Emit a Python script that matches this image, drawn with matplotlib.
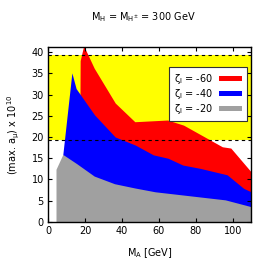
import matplotlib
matplotlib.use("Agg")
import matplotlib.pyplot as plt

plt.rcParams["font.size"] = 7
plt.rcParams["mathtext.default"] = "regular"

# excluded band (dashed limits)
BAND_LO = 19.4
BAND_HI = 39.2

# zeta_l = -20
x20 = [4.3, 8.0, 15.6, 25.0, 36.0, 47.0, 58.0, 80.0, 96.0, 110.0]
y20 = [12.4, 15.9, 13.7, 10.8, 9.0, 8.0, 7.1, 6.0, 5.2, 3.6]

# zeta_l = -40
x40 = [8.0, 12.9, 15.2, 25.2, 36.4, 47.3, 57.0, 65.0, 73.0, 82.6, 97.0, 106.0, 110.0]
y40 = [15.9, 35.1, 31.4, 25.2, 20.0, 18.1, 15.8, 15.0, 13.4, 12.6, 11.1, 7.9, 7.1]

# zeta_l = -60
x60 = [17.3, 17.4, 19.3, 25.0, 36.4, 47.0, 64.7, 73.4, 94.4, 99.0, 110.0]
y60 = [30.0, 38.0, 41.5, 36.2, 28.0, 23.6, 24.0, 22.8, 17.7, 17.4, 11.8]

fig = plt.figure(figsize=(2.7, 2.7), dpi=100)
ax = fig.add_axes([0.178, 0.178, 0.752, 0.648])

ax.fill_between([0, 110], BAND_LO, BAND_HI, color="#ffff00", lw=0)
ax.fill_between(x60, 0, y60, color="#ff0000", lw=0, label=r"$\zeta_l$ = -60")
ax.fill_between(x40, 0, y40, color="#0000ff", lw=0, label=r"$\zeta_l$ = -40")
ax.fill_between(x20, 0, y20, color="#a0a0a0", lw=0, label=r"$\zeta_l$ = -20")
ax.axhline(BAND_HI, color="k", ls="--", lw=0.8, dashes=(3, 3))
ax.axhline(BAND_LO, color="k", ls="--", lw=0.8, dashes=(3, 3))

ax.set_xlim(0, 110)
ax.set_ylim(0, 41.2)
ax.set_xticks([0, 20, 40, 60, 80, 100])
ax.set_yticks([0, 5, 10, 15, 20, 25, 30, 35, 40])
ax.tick_params(direction="in", top=True, right=True, length=3, width=0.8, pad=3)
for s in ax.spines.values():
    s.set_linewidth(1.0)

ax.set_xlabel(r"M$_A$ [GeV]", labelpad=7)
ax.set_ylabel(r"(max. a$_\mu$) x 10$^{10}$", labelpad=7)
fig.text(0.53, 0.935, r"M$_H$ = M$_{H^{\pm}}$ = 300 GeV", ha="center", va="center")

handles, labels = ax.get_legend_handles_labels()
leg = ax.legend(handles, labels, loc="upper right",
                bbox_to_anchor=(0.98, 0.886), borderaxespad=0,
                markerfirst=False, fancybox=False, framealpha=1,
                edgecolor="#333333", fontsize=7, handlelength=2.4,
                handleheight=0.5, labelspacing=0.1, borderpad=0.5,
                handletextpad=0.6)
leg.get_frame().set_linewidth(0.8)

fig.savefig("out.png", dpi=100)
